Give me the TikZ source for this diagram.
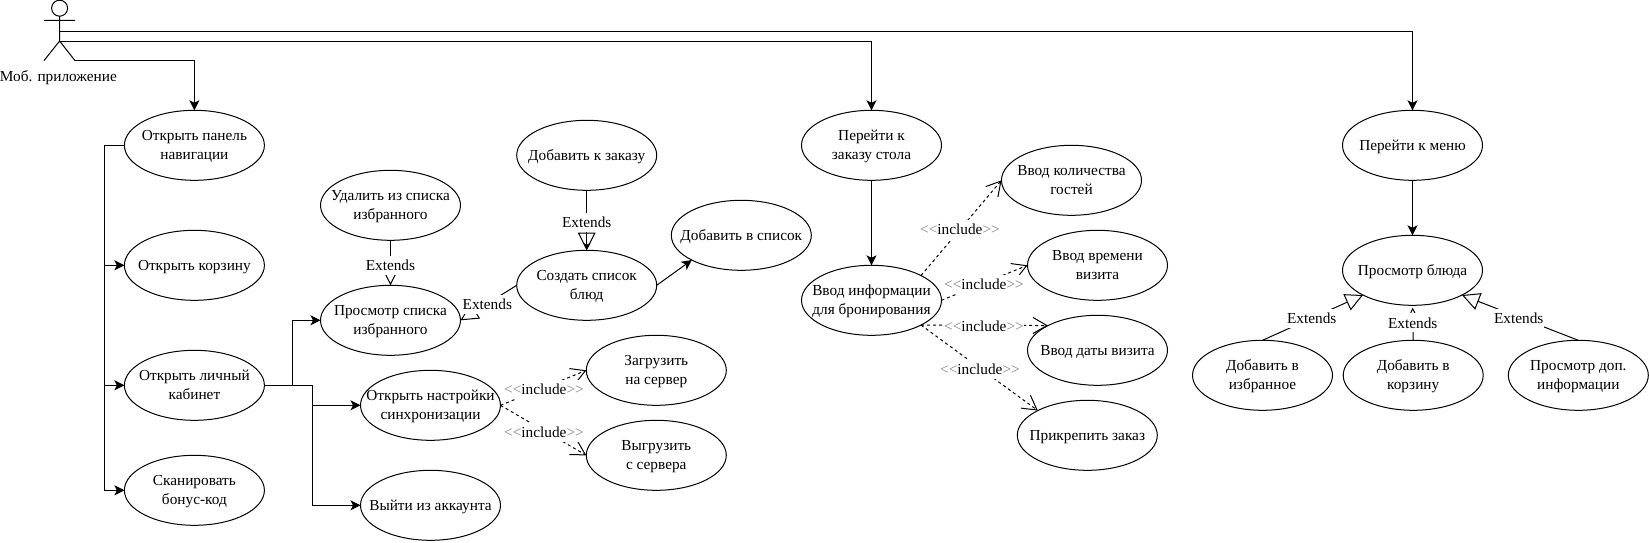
\documentclass[tikz,border=0pt]{standalone}
\usepackage{fontspec}
\setmainfont{Liberation Serif}
\usetikzlibrary{arrows.meta,shapes.geometric}
\tikzset{
  uc/.style={draw=black,line width=1pt,fill=white,shape=ellipse,minimum width=140pt,minimum height=70pt,
    inner xsep=-32pt,inner ysep=0pt,outer sep=0pt,align=center,font=\fontsize{15.3}{18.8}\selectfont,
    execute at begin node={\rule{0pt}{14pt}},execute at end node={\rule[-4pt]{0pt}{4pt}}},
  uctwo/.style={uc,execute at begin node={\rule{0pt}{32pt}}},
  flow/.style={draw=black,line width=1pt,-{Stealth[length=10pt,width=10pt,inset=2.5pt]}},
  smallflow/.style={draw=black,line width=1pt,-{Stealth[length=7.5pt,width=7.5pt,inset=2pt]}},
  plain/.style={draw=black,line width=1pt},
  ext/.style={draw=black,line width=1pt,-{Triangle[open,fill=white,length=17.6pt,width=17.6pt]}},
  inc/.style={draw=black,line width=1pt,dash pattern=on 3pt off 3pt,-{Straight Barb[length=14pt,width=16pt,line width=1pt]}},
  lab/.style={fill=white,inner xsep=0.5pt,inner ysep=0pt,minimum height=19pt,font=\fontsize{15.3}{18.3}\selectfont},
  actortxt/.style={inner sep=0pt,font=\fontsize{15.3}{18.3}\selectfont},
}
\newcommand{\incl}{\textcolor{black!50}{<{}<}include\textcolor{black!50}{>{}>}}
\begin{document}
\begin{tikzpicture}[x=1pt,y=-1pt]
\useasboundingbox (0,0) rectangle (1649,542);
% actor
\node[draw=black,line width=1pt,shape=circle,minimum size=16pt,inner sep=0pt,outer sep=0pt] (head) at (59.6,8.2) {};
\coordinate (neck) at (head.south);
\coordinate (armL) at (44,20.4);
\coordinate (armR) at (75,20.4);
\coordinate (hip) at (59.6,41);
\coordinate (legL) at (44,60.6);
\coordinate (legR) at (75,60.6);
\draw[plain] (neck) -- (hip) (armL) -- (armR) (legL) -- (hip) -- (legR);
\node[actortxt] (actorname) at (58.4,77.5) {Моб. приложение};
% use cases
\node[uctwo] (panel) at (194.4,145.3) {Открыть панель\\навигации};
\node[uc] (cart) at (194.4,265.3) {Открыть корзину};
\node[uctwo] (cabinet) at (194.4,385.3) {Открыть личный\\кабинет};
\node[uctwo] (scan) at (194.4,490.3) {Сканировать\\бонус-код};
\node[uctwo] (remove) at (390.5,205.3) {Удалить из списка\\избранного};
\node[uctwo] (favs) at (390.5,320.3) {Просмотр списка\\избранного};
\node[uctwo] (sync) at (430.5,405.3) {Открыть настройки\\синхронизации};
\node[uc] (logout) at (430.5,505.3) {Выйти из аккаунта};
\node[uc] (addorder) at (586.7,155.3) {Добавить к заказу};
\node[uctwo] (mklist) at (586.7,285.3) {Создать список\\блюд};
\node[uc] (addlist) at (741.3,235.3) {Добавить в список};
\node[uctwo] (upload) at (656.3,370.3) {Загрузить\\на сервер};
\node[uctwo] (download) at (656.3,455.3) {Выгрузить\\с сервера};
\node[uctwo] (table) at (871.5,145.3) {Перейти к\\заказу стола};
\node[uctwo] (info) at (871.5,300.3) {Ввод информации\\для бронирования};
\node[uctwo] (guests) at (1071.5,180.3) {Ввод количества\\гостей};
\node[uctwo] (vtime) at (1097.5,265.3) {Ввод времени\\визита};
\node[uc] (vdate) at (1097.5,350.3) {Ввод даты визита};
\node[uc] (attach) at (1087.3,435.3) {Прикрепить заказ};
\node[uc] (menu) at (1412.5,145.3) {Перейти к меню};
\node[uc] (dish) at (1412.5,270.3) {Просмотр блюда};
\node[uctwo] (addfav) at (1262.5,375.3) {Добавить в\\избранное};
\node[uctwo] (addcart) at (1413.2,375.3) {Добавить в\\корзину};
\node[uctwo] (more) at (1578.3,375.3) {Просмотр доп.\\информации};
% actor connectors
\coordinate (a1) at (59.6,31);
\coordinate (a2) at (59.6,41);
\draw[flow] (a1) -| (menu.north);
\draw[flow] (a2) -| (table.north);
\draw[flow] (legR) -| (panel.north);
% left bus
\coordinate (bus) at (104.5,145.3);
\draw[flow] (panel.west) -- (bus) |- (cart.west);
\draw[flow] (panel.west) -- (bus) |- (cabinet.west);
\draw[flow] (panel.west) -- (bus) |- (scan.west);
% cabinet branches
\coordinate (b1) at (292.2,385.3);
\coordinate (b2) at (312.5,385.3);
\draw[flow] (cabinet.east) -- (b1) |- (favs.west);
\draw[flow] (cabinet.east) -- (b2) |- (sync.west);
\draw[flow] (cabinet.east) -- (b2) |- (logout.west);
% extends
\draw[ext] (remove.south) -- (favs.north);
\draw[ext] (mklist.west) -- (favs.east);
\draw[ext] (addorder.south) -- (mklist.north);
\draw[smallflow] (addorder.south) -- (mklist.north);
\draw[flow] (mklist.east) -- (addlist.south west);
\coordinate (dishtip) at (1412.7,307.7);
\draw[ext] (addfav.north) -- (dish.south west);
\draw[ext] (addcart.north) -- (dishtip);
\draw[ext] (more.north) -- (dish.south east);
\draw[flow] (table.south) -- (info.north);
\draw[flow] (menu.south) -- (dish.north);
% include
\draw[inc] (sync.east) -- (upload.west);
\draw[inc] (sync.east) -- (download.west);
\draw[inc] (info.north east) -- (guests.west);
\draw[inc] (info.east) -- (vtime.west);
\draw[inc] (info.south east) -- (vdate.north west);
\draw[inc] (info.south east) -- (attach.north west);
% labels
\node[lab] (e1) at (390.4,265) {Extends};
\node[lab] (e2) at (487.3,304.5) {Extends};
\node[lab] (e3) at (586.7,222) {Extends};
\node[lab] (e4) at (1311.7,318) {Extends};
\node[lab] (e5) at (1412.7,322.8) {Extends};
\node[lab] (e6) at (1518.7,318) {Extends};
\node[lab] (i1) at (544,389) {\incl};
\node[lab] (i2) at (544,432) {\incl};
\node[lab] (i3) at (960,229) {\incl};
\node[lab] (i4) at (984,284) {\incl};
\node[lab] (i5) at (984,326) {\incl};
\node[lab] (i6) at (980,369) {\incl};
\end{tikzpicture}
\end{document}
